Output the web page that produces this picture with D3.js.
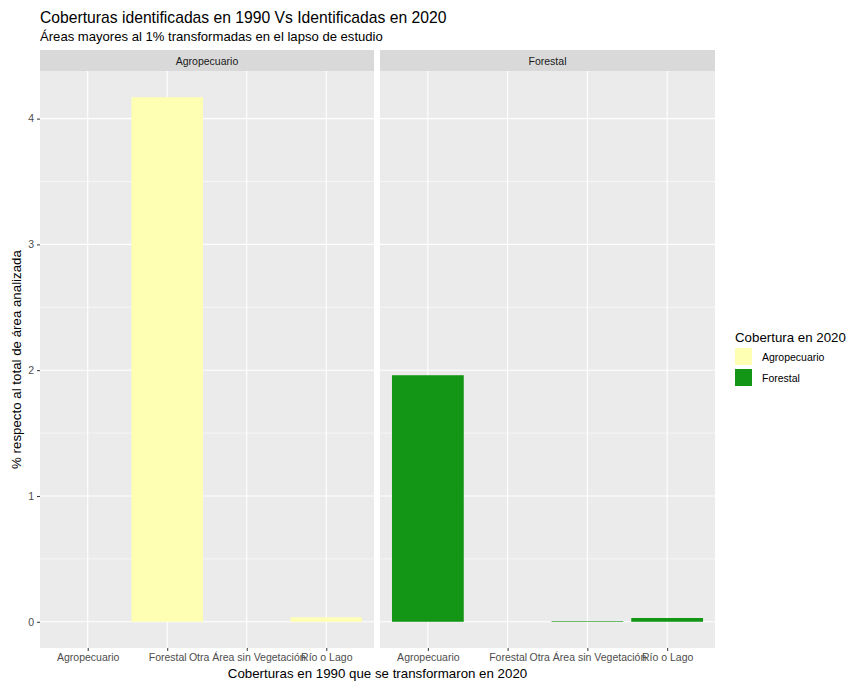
<!DOCTYPE html>
<html>
<head>
<meta charset="utf-8">
<script src="https://cdn.jsdelivr.net/npm/d3@7"></script>
<style>
  html, body { margin: 0; padding: 0; background: #ffffff; }
  svg { display: block; font-family: "Liberation Sans", Arial, sans-serif; }
</style>
</head>
<body>
<svg id="chart" width="850" height="684"></svg>
<script>
// Land cover in 1990 (x axis) that changed into each 2020 cover (facet)
const coverages1990 = ["Agropecuario", "Forestal", "Otra Área sin Vegetación", "Río o Lago"];
const coverages2020 = ["Agropecuario", "Forestal"];
const valuesToAgropecuario = [null, 4.17, 0, 0.035];
const valuesToForestal = [1.96, null, 0.005, 0.03];
const fillColors = ["#FFFFB3", "#139615"];
const yTicks = [0, 1, 2, 3, 4];

const seriesByPanel = [valuesToAgropecuario, valuesToForestal];

const svg = d3.select("#chart");

const panels = [
  { x0: 40, x1: 374 },
  { x0: 380, x1: 715 }
];
const stripTop = 50, panelTop = 71, panelBottom = 648;
const tickFont = 10.5, titleFont = 13.3;

// y scale with 5% expansion of the data range
const yMax = d3.max(seriesByPanel.flat().filter(v => v != null));
const pad = yMax * 0.05;
const y = d3.scaleLinear().domain([-pad, yMax + pad]).range([panelBottom, panelTop]);

const color = d3.scaleOrdinal().domain(coverages2020).range(fillColors);

// Titles
svg.append("text").attr("x", 40).attr("y", 23)
  .attr("font-size", 15.7).attr("fill", "#000")
  .text("Coberturas identificadas en 1990 Vs Identificadas en 2020");
svg.append("text").attr("x", 40).attr("y", 41)
  .attr("font-size", 13.1).attr("fill", "#000")
  .text("Áreas mayores al 1% transformadas en el lapso de estudio");

const minorTicks = d3.range(0.5, yMax + pad, 1);

panels.forEach((p, i) => {
  const g = svg.append("g");
  // discrete x scale: bands with 0.6-unit expansion on each side
  const x = d3.scalePoint().domain(coverages1990)
    .range([p.x0, p.x1]).padding(0.6);
  const step = x.step();

  g.append("rect").attr("x", p.x0).attr("y", panelTop)
    .attr("width", p.x1 - p.x0).attr("height", panelBottom - panelTop)
    .attr("fill", "#EBEBEB");

  // grid
  g.selectAll(".minor").data(minorTicks).enter().append("line")
    .attr("x1", p.x0).attr("x2", p.x1)
    .attr("y1", d => y(d)).attr("y2", d => y(d))
    .attr("stroke", "#fff").attr("stroke-width", 0.55);
  g.selectAll(".major").data(yTicks).enter().append("line")
    .attr("x1", p.x0).attr("x2", p.x1)
    .attr("y1", d => y(d)).attr("y2", d => y(d))
    .attr("stroke", "#fff").attr("stroke-width", 1.1);
  g.selectAll(".vmajor").data(coverages1990).enter().append("line")
    .attr("x1", d => x(d)).attr("x2", d => x(d))
    .attr("y1", panelTop).attr("y2", panelBottom)
    .attr("stroke", "#fff").attr("stroke-width", 1.1);

  // bars
  const vals = seriesByPanel[i];
  const bw = step * 0.9;
  g.selectAll(".bar").data(coverages1990.map((c, k) => ({ c, v: vals[k] })).filter(d => d.v != null && d.v > 0))
    .enter().append("rect")
    .attr("x", d => x(d.c) - bw / 2)
    .attr("width", bw)
    .attr("y", d => y(d.v))
    .attr("height", d => y(0) - y(d.v))
    .attr("fill", color(coverages2020[i]));

  // strip
  g.append("rect").attr("x", p.x0).attr("y", stripTop)
    .attr("width", p.x1 - p.x0).attr("height", panelTop - stripTop)
    .attr("fill", "#D9D9D9");
  g.append("text").attr("x", (p.x0 + p.x1) / 2).attr("y", 64.5)
    .attr("text-anchor", "middle").attr("font-size", tickFont).attr("fill", "#1A1A1A")
    .text(coverages2020[i]);

  // x axis
  const xa = g.append("g").attr("transform", `translate(0,${panelBottom})`)
    .call(d3.axisBottom(x).tickSize(3).tickPadding(3));
  xa.select(".domain").remove();
  xa.selectAll("line").attr("stroke", "#333").attr("stroke-width", 1);
  xa.selectAll("text").attr("font-size", tickFont).attr("fill", "#4D4D4D")
    .attr("font-family", "Liberation Sans, Arial, sans-serif");
});

// y axis
const ya = svg.append("g").attr("transform", `translate(${panels[0].x0},0)`)
  .call(d3.axisLeft(y).tickValues(yTicks).tickSize(3).tickPadding(3).tickFormat(d3.format("d")));
ya.select(".domain").remove();
ya.selectAll("line").attr("stroke", "#333").attr("stroke-width", 1);
ya.selectAll("text").attr("font-size", tickFont).attr("fill", "#4D4D4D")
  .attr("font-family", "Liberation Sans, Arial, sans-serif");

// axis titles
svg.append("text").attr("x", (panels[0].x0 + panels[1].x1) / 2).attr("y", 678)
  .attr("text-anchor", "middle").attr("font-size", titleFont).attr("fill", "#000")
  .text("Coberturas en 1990 que se transformaron en 2020");
svg.append("text")
  .attr("transform", `translate(21,${(panelTop + panelBottom) / 2}) rotate(-90)`)
  .attr("text-anchor", "middle").attr("font-size", titleFont).attr("fill", "#000")
  .text("% respecto al total de área analizada");

// legend
const lg = svg.append("g").attr("transform", "translate(735,0)");
lg.append("text").attr("x", 0).attr("y", 342).attr("font-size", titleFont).attr("fill", "#000")
  .text("Cobertura en 2020");
coverages2020.forEach((c, k) => {
  lg.append("rect").attr("x", 0).attr("y", 348 + k * 21)
    .attr("width", 17).attr("height", 17).attr("fill", color(c));
  lg.append("text").attr("x", 27).attr("y", 360.5 + k * 21)
    .attr("font-size", tickFont).attr("fill", "#000").text(c);
});
</script>
</body>
</html>
